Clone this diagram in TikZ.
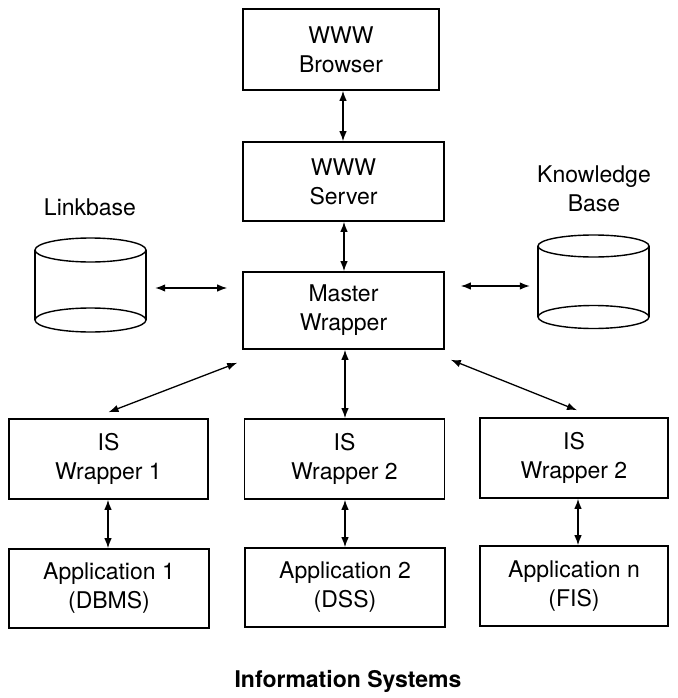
\documentclass[tikz,border=0pt]{standalone}
\usepackage{fontspec}
\setmainfont{TeX Gyre Heros}
\usetikzlibrary{arrows.meta,calc}
\begin{document}
\begin{tikzpicture}[x=1pt,y=-1pt,
  txt/.style={font=\fontsize{23}{29}\selectfont, align=center},
  box/.style={draw, line width=1.6pt, inner sep=0pt, txt},
  arr/.style={line width=1.3pt, {Latex[length=10pt,width=7.5pt]}-{Latex[length=10pt,width=7.5pt]}},
  cyl/.style={line width=1.4pt}]
\useasboundingbox (0,0) rectangle (677,698);
% top column
\node[box, minimum width=196pt, minimum height=81pt] (browser) at (341,49.5) {WWW\\Browser};
\node[box, minimum width=201pt, minimum height=79pt] (server) at (343.5,181.5) {WWW\\Server};
\node[box, minimum width=201pt, minimum height=77pt] (master) at (343.5,310.5) {Master\\Wrapper};
% IS wrappers
\node[box, minimum width=199pt, minimum height=80pt] (is1) at (108.5,459) {IS\\Wrapper 1};
\node[box, minimum width=200pt, minimum height=80pt] (is2) at (344.5,459) {IS\\Wrapper 2};
\node[box, minimum width=188pt, minimum height=80pt] (isn) at (574,458) {IS\\Wrapper 2};
% applications
\node[box, minimum width=200pt, minimum height=79pt] (app1) at (109,588.5) {Application 1\\(DBMS)};
\node[box, minimum width=200pt, minimum height=79pt] (app2) at (345,587.5) {Application 2\\(DSS)};
\node[box, minimum width=188pt, minimum height=80pt] (appn) at (574,586) {Application n\\(FIS)};
% cylinders
\draw[cyl] (90.5,250) ellipse [x radius=55.5pt, y radius=12pt];
\draw[cyl] (90.5,320) ellipse [x radius=55.5pt, y radius=12pt];
\draw[cyl] (35,250) -- (35,320) (146,250) -- (146,320);
\node[inner sep=0pt, minimum width=111pt, minimum height=94pt] (lbase) at (90.5,288) {};
\node[txt] (lbl) at (90,207) {Linkbase};
\draw[cyl] (593.5,246) ellipse [x radius=55.5pt, y radius=11pt];
\draw[cyl] (593.5,317) ellipse [x radius=55.5pt, y radius=11.5pt];
\draw[cyl] (538,246) -- (538,317) (649,246) -- (649,317);
\node[inner sep=0pt, minimum width=111pt, minimum height=94pt] (kbase) at (593.5,286) {};
\node[txt] (kbl) at (594,189) {Knowledge\\Base};
% connectors
\draw[arr] (browser.south -| 343,0) -- (server.north -| 343,0);
\draw[arr] (server.south -| 344,0) -- (master.north -| 344,0);
\draw[arr] (master.south -| 345,0) -- (is2.north -| 345,0);
\draw[arr] (is1.south -| 108,0) -- (app1.north -| 108,0);
\draw[arr] (is2.south -| 345,0) -- (app2.north -| 345,0);
\draw[arr] (isn.south -| 578,0) -- (appn.north -| 578,0);
\draw[arr, shorten <=9pt, shorten >=15pt] (lbase.east) -- (lbase.east -| master.west);
\draw[arr, shorten <=16pt, shorten >=8pt] (kbase.west -| master.east) -- (kbase.west);
\draw[arr] ([shift={(-5,13)}]master.south west) -- ([shift={(0,-6)}]is1.north);
\draw[arr] ([shift={(6,10)}]master.south east) -- ([shift={(3,-7)}]isn.north);
\node[font=\fontsize{23}{29}\selectfont\bfseries] (info) at (348,681) {Information Systems};
\end{tikzpicture}
\end{document}
